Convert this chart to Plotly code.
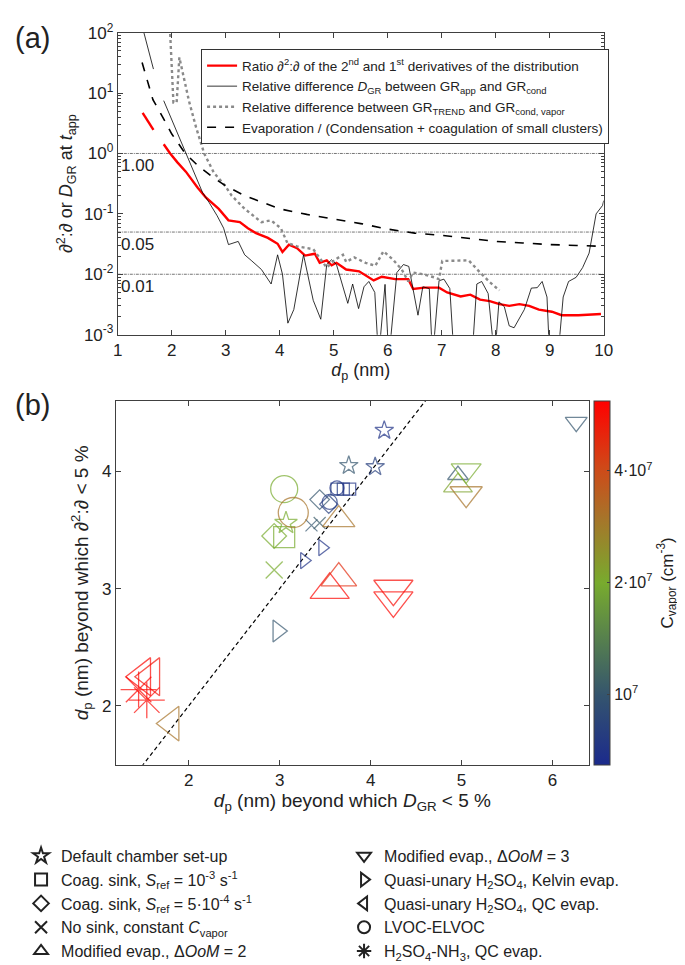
import numpy as np
import plotly.graph_objects as go

# ---------------- panel (a): curves vs particle diameter ----------------
dp_ratio = [1.46, 1.66, 1.75, 1.85, 1.97, 2.1, 2.26, 2.48, 2.63, 2.87, 3.05, 3.26, 3.41, 3.56, 3.78, 3.96,
            4.05, 4.17, 4.32, 4.47, 4.65, 4.74, 4.87, 4.96, 5.05, 5.23, 5.47, 5.74, 5.89, 6.14, 6.38, 6.47,
            6.68, 6.95, 7.10, 7.35, 7.53, 7.71, 7.89, 8.07, 8.25, 8.44, 8.62, 8.80, 9.04, 9.22, 9.53, 9.95]
ratio = [4.7, 2.45, None, 1.42, 1.0, 0.72, 0.5, 0.27, 0.187, 0.121, 0.078, 0.073, 0.058, 0.048, 0.040, 0.032,
         0.0234, 0.031, 0.027, 0.0204, 0.0219, 0.0155, 0.017, 0.0141, 0.0155, 0.012, 0.0112, 0.0079, 0.0091,
         0.0083, 0.0083, 0.0057, 0.006, 0.006, 0.005, 0.0043, 0.0046, 0.0038, 0.0036, 0.0032, 0.003, 0.0032,
         0.003, 0.0026, 0.0024, 0.0021, 0.0021, 0.0022]

dp_dgr = [1.45, 1.66, 1.75, 1.85, 2.0, 2.25, 2.57, 2.69, 2.84, 2.96, 3.05, 3.23, 3.35, 3.47, 3.66, 3.84, 3.96,
          4.05, 4.15, 4.26, 4.44, 4.62, 4.76, 4.87, 4.96, 5.05, 5.26, 5.35, 5.46, 5.56, 5.65, 5.76, 5.83, 5.95,
          6.02, 6.17, 6.29, 6.39, 6.56, 6.65, 6.77, 6.83, 6.95, 7.04, 7.15, 7.23, 7.56, 7.65, 7.74, 7.86, 7.98,
          8.06, 8.16, 8.25, 8.34, 8.53, 8.66, 8.77, 8.86, 8.95, 9.0, 9.15, 9.25, 9.35, 9.49, 9.61, 9.73, 9.86,
          9.98, 10.0]
dgr = [130, 25, None, 7.5, 3.6, 1.07, 0.225, 0.155, 0.093, 0.058, 0.031, 0.035, 0.021, 0.017, 0.012, 0.0069,
       0.021, 0.010, 0.00155, 0.0026, 0.021, 0.0037, 0.0018, 0.0145, 0.0174, 0.0145, 0.0033, 0.0069, 0.0027,
       0.0062, 0.0076, 0.005, 0.0004, 0.0068, 0.0004, 0.0107, 0.0145, 0.0135, 0.0021, 0.0062, 0.0058, 0.0004,
       0.0078, 0.0083, 0.0058, 0.0004, 0.0004, 0.0069, 0.0076, 0.0048, 0.0004, 0.0035, 0.0029, 0.0014, 0.0013,
       0.0026, 0.0059, 0.006, 0.0076, 0.0042, 0.0004, 0.0004, 0.0042, 0.0076, 0.0089, 0.0129, 0.0224, 0.1,
       0.138, 0.166]

dp_trend = [1.96, 2.03, 2.09, 2.14, 2.32, 2.45, 2.60, 2.78, 2.99, 3.11, 3.35, 3.66, 3.84, 4.02, 4.14, 4.32,
            4.62, 4.87, 5.02, 5.17, 5.23, 5.38, 5.59, 5.77, 5.92, 6.10, 6.26, 6.38, 6.47, 6.65, 6.86, 6.95,
            7.01, 7.22, 7.50, 7.71, 7.89, 8.07]
trend = [150, 7.0, 7.0, 39, 7.3, 2.7, 1.0, 0.48, 0.29, 0.2, 0.121, 0.073, 0.078, 0.058, 0.033, 0.029,
         0.026, 0.0129, 0.0174, 0.021, 0.016, 0.019, 0.0155, 0.0138, 0.024, 0.0174, 0.012, 0.0076, 0.0107,
         0.010, 0.0089, 0.0083, 0.0166, 0.0166, 0.017, 0.0107, 0.0074, 0.0054]

dp_evap = [1.45, 1.65, 1.8, 2.0, 2.25, 2.5, 2.75, 3.0, 3.35, 3.75, 4.0, 4.5, 5.0, 5.5, 6.0, 6.5, 7.0, 7.5,
           8.0, 8.5, 9.0, 9.5, 10.0]
evap = [32, 7.8, 4.5, 2.1, 1.0, 0.61, 0.41, 0.29, 0.2, 0.145, 0.121, 0.098, 0.082, 0.069, 0.056, 0.048,
        0.044, 0.039, 0.035, 0.033, 0.031, 0.030, 0.029]

ref_levels = [1.0, 0.05, 0.01]
ref_labels = ['1.00', '0.05', '0.01']

# ---------------- panel (b): onset diameters, colour = C_vapor (cm-3) ----------------
star_x = [4.15, 3.76, 4.05, 3.07]
star_y = [4.35, 4.05, 4.04, 3.56]
star_c = [7e6, 1.0e7, 8e6, 2.0e7]

square_x = [3.63, 3.70, 3.77, 3.05]
square_y = [3.85, 3.85, 3.85, 3.44]
square_c = [8e6, 7.5e6, 7e6, 2.0e7]

diamond_x = [3.44, 3.54, 2.94]
diamond_y = [3.76, 3.72, 3.45]
diamond_c = [1.0e7, 8e6, 2.0e7]

cross_x = [2.94, 3.35, 3.44]
cross_y = [3.16, 3.54, 3.56]
cross_c = [2.0e7, 1.0e7, 1.05e7]

tri_up_x = [3.65, 3.55, 3.65, 4.96, 4.96]
tri_up_y = [3.59, 2.99, 3.09, 3.97, 3.88]
tri_up_c = [3.0e7, 6.0e7, 4.8e7, 1.0e7, 2.1e7]

tri_down_x = [5.05, 5.05, 4.25, 4.25, 6.26]
tri_down_y = [4.01, 3.81, 3.00, 2.90, 4.42]
tri_down_c = [2.0e7, 3.0e7, 5.8e7, 6.0e7, 1.0e7]

tri_right_x = [3.47, 3.27, 2.98]
tri_right_y = [3.35, 3.24, 2.64]
tri_right_c = [7e6, 7e6, 1.0e7]

tri_left_x = [1.49, 1.59, 1.81]
tri_left_y = [2.25, 2.25, 1.85]
tri_left_c = [6.0e7, 5.6e7, 3.0e7]

circle_x = [3.05, 3.15, 3.55, 3.63]
circle_y = [3.85, 3.65, 3.74, 3.86]
circle_c = [2.0e7, 3.0e7, 7.5e6, 7e6]

aster_x = [1.45, 1.54]
aster_y = [2.14, 2.05]
aster_c = [6.0e7, 6.0e7]

cbar_vals = [1e7, 2e7, 4e7]
cbar_text = ['10<sup>7</sup>', '2·10<sup>7</sup>', '4·10<sup>7</sup>']

# ---------------- styles ----------------
FONT = 'Liberation Sans, Arial, sans-serif'
AX = '#404040'
W, H = 685, 965

groups = [
    ('Default chamber set-up', 'star-open', star_x, star_y, star_c, [14, 14, 14, 17]),
    ('Coag. sink, <i>S</i><sub>ref</sub> = 10<sup>-3</sup> s<sup>-1</sup>', 'square-open',
     square_x, square_y, square_c, [12, 12, 12, 21]),
    ('Coag. sink, <i>S</i><sub>ref</sub> = 5·10<sup>-4</sup> s<sup>-1</sup>', 'diamond-open',
     diamond_x, diamond_y, diamond_c, [15, 14, 19]),
    ('No sink, constant <i>C</i><sub>vapor</sub>', 'x-thin-open', cross_x, cross_y, cross_c, [17, 12, 12]),
    ('Modified evap., Δ<i>OoM</i> = 2', 'triangle-up-open', tri_up_x, tri_up_y, tri_up_c, [28, 34, 31, 18, 25]),
    ('Modified evap., Δ<i>OoM</i> = 3', 'triangle-down-open', tri_down_x, tri_down_y, tri_down_c,
     [26, 28, 34, 34, 19]),
    ('Quasi-unary H<sub>2</sub>SO<sub>4</sub>, Kelvin evap.', 'triangle-right-open',
     tri_right_x, tri_right_y, tri_right_c, [14, 14, 19]),
    ('Quasi-unary H<sub>2</sub>SO<sub>4</sub>, QC evap.', 'triangle-left-open',
     tri_left_x, tri_left_y, tri_left_c, [33, 33, 30]),
    ('LVOC-ELVOC', 'circle-open', circle_x, circle_y, circle_c, [27, 30, 15, 14]),
    ('H<sub>2</sub>SO<sub>4</sub>-NH<sub>3</sub>, QC evap.', 'asterisk-open', aster_x, aster_y, aster_c, [30, 30]),
]

colorscale = [[0, '#1b2a8c'], [0.19, '#34546e'], [0.5, '#78ab2e'], [0.68, '#a7742a'],
              [0.82, '#d04818'], [1, '#ff0000']]

fig = go.Figure()

# panel (a) reference levels
for lev in ref_levels:
    fig.add_trace(go.Scatter(x=[1, 10], y=[lev, lev], mode='lines', showlegend=False, hoverinfo='skip',
                             line=dict(color='#666666', width=0.9, dash='3px,1px,1px,1px'),
                             xaxis='x', yaxis='y'))

fig.add_trace(go.Scatter(
    x=dp_ratio, y=ratio, mode='lines', line=dict(color='#ff0000', width=2.4),
    name='Ratio <i>∂</i><sup>2</sup>:<i>∂</i> of the 2<sup>nd</sup> and 1<sup>st</sup> derivatives of the distribution',
    xaxis='x', yaxis='y', legend='legend'))
fig.add_trace(go.Scatter(
    x=dp_dgr, y=dgr, mode='lines', line=dict(color='black', width=0.8),
    name='Relative difference <i>D</i><sub>GR</sub> between GR<sub>app</sub> and GR<sub>cond</sub>',
    xaxis='x', yaxis='y', legend='legend'))
fig.add_trace(go.Scatter(
    x=dp_trend, y=trend, mode='lines', line=dict(color='#8a8a8a', width=2.4, dash='dot'),
    name='Relative difference between GR<sub>TREND</sub> and GR<sub>cond, vapor</sub>',
    xaxis='x', yaxis='y', legend='legend'))
fig.add_trace(go.Scatter(
    x=dp_evap, y=evap, mode='lines', line=dict(color='black', width=1.6, dash='dash'),
    name='Evaporation / (Condensation + coagulation of small clusters)',
    xaxis='x', yaxis='y', legend='legend'))

# panel (b) 1:1 line
fig.add_trace(go.Scatter(x=[1.2, 6.4], y=[1.2, 6.4], mode='lines', showlegend=False, hoverinfo='skip',
                         line=dict(color='black', width=1.2, dash='4px,3px'), xaxis='x2', yaxis='y2'))

for name, sym, xs, ys, cs, sizes in groups:
    fig.add_trace(go.Scatter(
        x=xs, y=ys, mode='markers', showlegend=False, xaxis='x2', yaxis='y2', name=name,
        marker=dict(symbol=sym, size=sizes, color=np.log10(cs), coloraxis='coloraxis',
                    line=dict(width=1.3))))

# legend entries of panel (b): two columns, filled row by row
order = [0, 5, 1, 6, 2, 7, 3, 8, 4, 9]
for i in order:
    name, sym = groups[i][0], groups[i][1]
    fig.add_trace(go.Scatter(x=[None], y=[None], mode='markers', name=name, xaxis='x2', yaxis='y2',
                             legend='legend2',
                             marker=dict(symbol=sym, size=9, color='#222', line=dict(width=0.9))))

axis_common = dict(showline=True, linecolor=AX, linewidth=1, mirror='ticks', ticks='inside',
                   tickcolor=AX, ticklen=5, showgrid=False, zeroline=False,
                   tickfont=dict(family=FONT, size=17, color='#222'))

fig.update_layout(
    width=W, height=H, margin=dict(l=0, r=0, t=0, b=0),
    plot_bgcolor='white', paper_bgcolor='white',
    font=dict(family=FONT, color='#222'),
    xaxis=dict(axis_common, domain=[107 / W, 603 / W], anchor='y', range=[1, 10], dtick=1,
               title=dict(text='<i>d</i><sub>p</sub> (nm)', font=dict(size=18), standoff=0)),
    yaxis=dict(axis_common, domain=[1 - 322 / H, 1 - 13 / H], anchor='x', type='log', range=[-3, 2],
               tickvals=[1e-3, 1e-2, 1e-1, 1, 10, 100],
               ticktext=['10<sup>-3</sup>', '10<sup>-2</sup>', '10<sup>-1</sup>', '10<sup>0</sup>',
                         '10<sup>1</sup>', '10<sup>2</sup>'],
               minor=dict(ticks='inside', ticklen=3, tickcolor=AX, dtick='D1'),
               title=dict(text='<i>∂</i><sup>2</sup>:<i>∂</i> or <i>D</i><sub>GR</sub> at <i>t</i><sub>app</sub>',
                          font=dict(size=18), standoff=6)),
    xaxis2=dict(axis_common, domain=[105 / W, 588 / W], anchor='y2', range=[1.2, 6.4],
                tickvals=[2, 3, 4, 5, 6],
                title=dict(text='<i>d</i><sub>p</sub> (nm) beyond which <i>D</i><sub>GR</sub> &lt; 5 %',
                           font=dict(size=19), standoff=2)),
    yaxis2=dict(axis_common, domain=[1 - 762 / H, 1 - 390 / H], anchor='x2', range=[1.5, 4.6],
                tickvals=[2, 3, 4],
                title=dict(text='<i>d</i><sub>p</sub> (nm) beyond which <i>∂</i><sup>2</sup>:<i>∂</i> &lt; 5 %',
                           font=dict(size=19), standoff=8)),
    coloraxis=dict(
        colorscale=colorscale, cmin=6.81, cmax=7.79,
        colorbar=dict(x=593 / W, xanchor='left', xpad=0, ypad=0, thickness=16,
                      len=372 / H, lenmode='fraction', y=1 - 576 / H, yanchor='middle',
                      outlinewidth=1, outlinecolor=AX, ticks='inside', ticklen=3, tickcolor=AX,
                      tickvals=np.log10(cbar_vals), ticktext=cbar_text,
                      tickfont=dict(family=FONT, size=16, color='#222'),
                      title=dict(text='C<sub>vapor</sub> (cm<sup>-3</sup>)', side='right',
                                 font=dict(family=FONT, size=17, color='#222')))),
    legend=dict(x=192 / W, y=1 - 30 / H, xanchor='left', yanchor='top', bgcolor='white',
                bordercolor='#333', borderwidth=1, font=dict(family=FONT, size=13.5, color='#222'),
                tracegroupgap=0, itemwidth=30),
    legend2=dict(x=0.012, y=1 - 838 / H, xanchor='left', yanchor='top', orientation='h',
                 entrywidth=278, entrywidthmode='pixels', bgcolor='rgba(0,0,0,0)',
                 font=dict(family=FONT, size=16, color='#222'), itemsizing='constant',
                 tracegroupgap=0),
)

for lev, lab in zip(ref_levels, ref_labels):
    fig.add_annotation(x=1.02, y=np.log10(lev), xref='x', yref='y', text=lab, showarrow=False,
                       xanchor='left', yanchor='top', yshift=-1, font=dict(family=FONT, size=17, color='#222'))

fig.add_annotation(x=0, y=1, xref='paper', yref='paper', text='(a)', showarrow=False,
                   xanchor='left', yanchor='top', font=dict(family=FONT, size=29, color='#222'))
fig.add_annotation(x=0, y=1 - 376 / H, xref='paper', yref='paper', text='(b)', showarrow=False,
                   xanchor='left', yanchor='top', font=dict(family=FONT, size=29, color='#222'))

fig.write_html("out.html")
